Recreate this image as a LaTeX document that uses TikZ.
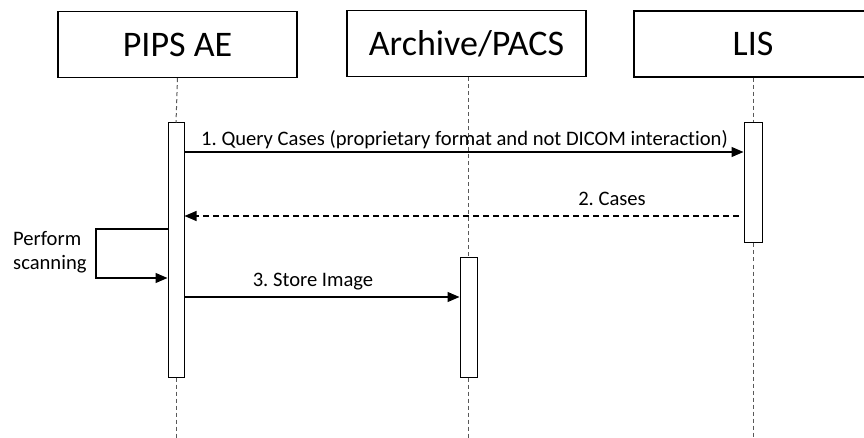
\documentclass[tikz,border=0pt]{standalone}
\usepackage{fontspec}
\setmainfont[Ligatures=NoCommon]{Carlito}
\usetikzlibrary{arrows.meta}
\begin{document}
\frenchspacing
\begin{tikzpicture}[x=1pt,y=-1pt,
  header/.style={draw=black,line width=1.2pt,minimum width=239pt,minimum height=66pt,inner sep=0pt,font=\fontsize{36}{40}\selectfont},
  actbox/.style={draw=black,line width=1pt,fill=white,inner sep=0pt},
  lifeline/.style={draw=black!65,line width=1pt,dash pattern=on 4pt off 3pt},
  msg/.style={draw=black,line width=1.1pt,-{Triangle[length=12pt,width=10pt]}},
  reply/.style={msg,dash pattern=on 6pt off 4pt},
  lbl/.style={font=\fontsize{20.6}{24}\selectfont,inner sep=0pt,anchor=base}
]
\useasboundingbox (0,0) rectangle (864,438);
\clip (0,0) rectangle (864,438);
% headers
\node[header] (pips) at (177.5,44.5) {PIPS AE};
\node[header] (arch) at (466.5,43.5) {Archive/PACS};
\node[header,minimum width=238pt] (lis) at (753,44) {LIS};
% activation boxes
\node[actbox,minimum width=16pt,minimum height=254pt] (pa) at (176,250) {};
\node[actbox,minimum width=17pt,minimum height=119pt] (aa) at (468.5,317.5) {};
\node[actbox,minimum width=18pt,minimum height=120pt] (la) at (753,183) {};
% bottom ends
\coordinate (pend) at (176,438);
\coordinate (aend) at (468.5,438);
\coordinate (lend) at (753,438);
% lifelines
\draw[lifeline] (pips.south) -- (pa.north);
\draw[lifeline] (pa.south) -- (pend);
\draw[lifeline] (arch.south -| aa.north) -- (aa.north);
\draw[lifeline] (aa.south) -- (aend);
\draw[lifeline] (lis.south -| la.north) -- (la.north);
\draw[lifeline] (la.south) -- (lend);
% y levels
\coordinate (y1) at (0,152);
\coordinate (y2) at (0,216);
\coordinate (y3a) at (0,229);
\coordinate (y3b) at (0,278);
\coordinate (y4) at (0,297);
\coordinate (loopx) at (96,0);
\coordinate (r2) at (739,216);
% messages
\draw[msg] (pa.east |- y1) -- (la.west |- y1);
\node[lbl] (m1) at (464.5,146) {1. Query Cases (proprietary format and not DICOM interaction)};
\draw[reply] (r2) -- (pa.east |- y2);
\node[lbl] (m2) at (612,206) {2. Cases};
\draw[msg] (pa.west |- y3a) -- (loopx |- y3a) -- (loopx |- y3b) -- (pa.west |- y3b);
\node[font=\fontsize{20.6}{24}\selectfont,inner sep=0pt,anchor=north west,align=left] (m3) at (13,231) {Perform\\scanning};
\draw[msg] (pa.east |- y4) -- (aa.west |- y4);
\node[lbl] (m4) at (313,286) {3. Store Image};
\end{tikzpicture}
\end{document}
